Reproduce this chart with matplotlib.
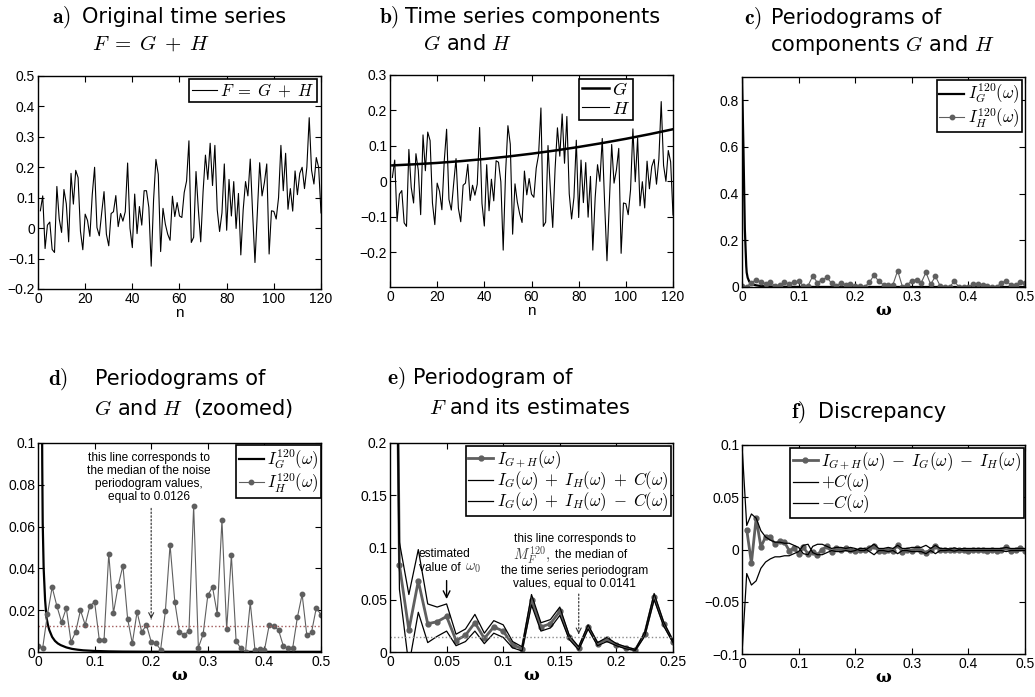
import matplotlib.pyplot as plt
import numpy as np
from matplotlib.ticker import FuncFormatter

plt.rcParams['mathtext.fontset'] = 'cm'
plt.rcParams['font.family'] = ['Liberation Sans', 'DejaVu Sans']

# time series, n = 1..120
n = np.arange(1, 121)
F = [0.057, 0.106, -0.067, 0.01, 0.02, -0.07, -0.08, 0.137, 0.03, -0.014,
     0.127, 0.08, -0.045, 0.18, 0.079, 0.19, 0.166, -0.01, -0.071, 0.046,
     0.025, -0.027, 0.11, 0.2, 0.002, -0.025, 0.05, 0.12, -0.02, -0.058,
     0.048, 0.054, 0.107, 0.005, 0.048, 0.023, 0.054, 0.214, 0.0, -0.064,
     0.112, -0.018, 0.071, 0.01, 0.123, 0.123, 0.068, -0.125, 0.092, 0.226,
     0.177, -0.077, 0.065, 0.013, -0.02, -0.04, 0.105, 0.038, 0.084, 0.04,
     0.035, 0.117, 0.155, 0.287, -0.047, -0.03, 0.186, 0.06, -0.045, 0.12,
     0.24, 0.16, 0.279, 0.14, 0.272, 0.06, -0.011, 0.05, 0.211, -0.007,
     0.16, 0.04, 0.153, -0.001, 0.114, -0.088, 0.06, 0.153, 0.106, 0.227,
     0.05, -0.113, 0.05, 0.215, 0.106, 0.15, 0.211, -0.085, 0.057, 0.055,
     0.03, 0.1, 0.272, 0.123, 0.246, 0.062, 0.13, 0.056, 0.188, 0.11,
     0.18, 0.2, 0.13, 0.2, 0.363, 0.19, 0.145, 0.232, 0.2, 0.05]
H = [0.011, 0.06, -0.113, -0.036, -0.026, -0.117, -0.127, 0.09, -0.017, -0.061,
     0.078, 0.031, -0.094, 0.131, 0.03, 0.139, 0.115, -0.061, -0.122, -0.005,
     -0.028, -0.08, 0.057, 0.147, -0.051, -0.081, -0.006, 0.064, -0.076, -0.114,
     -0.011, -0.005, 0.048, -0.054, -0.011, -0.039, -0.008, 0.152, -0.062, -0.126,
     0.047, -0.083, 0.006, -0.055, 0.058, 0.054, -0.001, -0.194, 0.023, 0.157,
     0.105, -0.149, -0.007, -0.059, -0.092, -0.116, 0.029, -0.038, 0.008, -0.036,
     -0.045, 0.037, 0.075, 0.207, -0.127, -0.115, 0.101, -0.025, -0.13, 0.035,
     0.151, 0.071, 0.19, 0.051, 0.183, -0.035, -0.106, -0.045, 0.116, -0.102,
     0.06, -0.06, 0.053, -0.101, 0.014, -0.194, -0.046, 0.047, 0.0, 0.121,
     -0.061, -0.224, -0.061, 0.104, -0.005, 0.032, 0.093, -0.203, -0.061, -0.063,
     -0.094, -0.024, 0.148, -0.001, 0.122, -0.069, -0.001, -0.075, 0.057, -0.021,
     0.042, 0.062, -0.008, 0.062, 0.225, 0.045, 0.0, 0.087, 0.055, -0.095]
n_G = [1, 10, 20, 30, 40, 50, 60, 70, 80, 90, 100, 110, 120]
G = [0.045, 0.048, 0.052, 0.057, 0.063, 0.07, 0.078, 0.087, 0.097, 0.108, 0.12, 0.133, 0.147]

# periodograms at Fourier frequencies k/120
omega = np.arange(61) / 120
I_H = [0.0029, 0.002, 0.018, 0.031, 0.022, 0.0143, 0.021, 0.0048, 0.0097, 0.020,
       0.013, 0.022, 0.024, 0.0057, 0.0056, 0.047, 0.0187, 0.0317, 0.0413, 0.0159,
       0.0041, 0.0192, 0.0095, 0.013, 0.0049, 0.0041, 0.0011, 0.0194, 0.0513, 0.0241,
       0.0094, 0.0083, 0.01, 0.0698, 0.0021, 0.0084, 0.0271, 0.0311, 0.0183, 0.063,
       0.0108, 0.0463, 0.0052, 0.0017, 0.0002, 0.0237, 0.001, 0.0014, 0.0008, 0.0127,
       0.0124, 0.0105, 0.003, 0.0017, 0.0019, 0.0167, 0.0276, 0.0079, 0.0095, 0.0211,
       0.0178]
omega_G = [0, 0.0025, 0.005, 0.0075, 0.0083, 0.01, 0.0125, 0.015, 0.0175, 0.02,
           0.025, 0.03, 0.035, 0.04, 0.05, 0.06, 0.07, 0.08, 0.1, 0.125,
           0.15, 0.2, 0.3, 0.4, 0.5]
I_G = [0.9, 0.6, 0.25, 0.09, 0.062, 0.04, 0.025, 0.0165, 0.013, 0.0105,
       0.0072, 0.0053, 0.0041, 0.0033, 0.0022, 0.0015, 0.0011, 0.0008, 0.0005, 0.0003,
       0.0002, 0.00013, 0.0001, 0.0001, 0.0001]
median_H = 0.0126
median_F = 0.0141

# panel e, k = 0..30
I_F = [0.92, 0.083, 0.021, 0.068, 0.027, 0.029, 0.034, 0.011, 0.016, 0.028,
       0.013, 0.024, 0.02, 0.007, 0.003, 0.05, 0.024, 0.027, 0.039, 0.014,
       0.0035, 0.024, 0.008, 0.012, 0.007, 0.004, 0.002, 0.017, 0.053, 0.027, 0.01]
upper = [1.0, 0.105, 0.055, 0.098, 0.046, 0.043, 0.046, 0.017, 0.022, 0.036,
         0.018, 0.03, 0.026, 0.01, 0.005, 0.055, 0.028, 0.031, 0.043, 0.016,
         0.005, 0.026, 0.009, 0.014, 0.008, 0.005, 0.0025, 0.019, 0.056, 0.029, 0.011]
lower = [0.8, 0.06, -0.013, 0.038, 0.009, 0.015, 0.02, 0.006, 0.01, 0.02,
         0.008, 0.018, 0.014, 0.004, 0.001, 0.045, 0.02, 0.023, 0.035, 0.012,
         0.002, 0.022, 0.006, 0.01, 0.006, 0.003, 0.0015, 0.015, 0.05, 0.025, 0.009]

# panel f
disc = [0.019, -0.013, 0.030, 0.0025, 0.012, 0.012, 0.005, 0.008, 0.007, -0.001,
        0.001, -0.004, 0.002, -0.004, -0.002, -0.005, 0.0, 0.003, -0.002, 0.001,
        0.0, 0.001, 0.0, -0.001, 0.0, 0.0, 0.001, 0.003, -0.001, -0.001,
        0.0, -0.001, 0.004, -0.002, 0.0, -0.001, 0.001, -0.001, -0.003, 0.0,
        0.003, 0.0, 0.0, 0.0, 0.0, 0.0, 0.0, -0.001, 0.0, 0.0,
        0.0, -0.001, 0.0, -0.001, 0.0, 0.002, -0.001, 0.0, 0.001, -0.001]
C = [0.1, 0.023, 0.034, 0.03, 0.018, 0.012, 0.009, 0.007, 0.007, 0.006,
     0.006, 0.004, 0.002, -0.004, -0.005, 0.003, 0.005, 0.005, 0.003, 0.001,
     0.002, 0.002, 0.001, 0.002, 0.001, -0.001, -0.001, 0.002, 0.005, 0.001,
     0.001, 0.002, 0.001, 0.004, 0.001, 0.001, 0.002, 0.002, 0.002, 0.004,
     0.001, 0.004, 0.001, 0.001, 0.0005, 0.0015, 0.0005, 0.001, 0.001, 0.001,
     0.001, 0.001, 0.001, 0.001, 0.001, 0.001, 0.002, 0.001, 0.001, 0.001, 0.001]

W, Hpx = 1035, 697
fig = plt.figure(figsize=(W / 100, Hpx / 100), dpi=100)

GRAY = '#5f5f5f'


def add_ax(l, t, r, b):
    return fig.add_axes([l / W, 1 - b / Hpx, (r - l) / W, (b - t) / Hpx])


def fmt(v, pos):
    return ('%g' % round(v, 6)).replace('-', '\u2212')


def style(ax):
    ax.tick_params(direction='in', top=True, right=True, length=4, width=0.8,
                   labelsize=10, pad=2)
    for s in ax.spines.values():
        s.set_linewidth(1.0)
    ax.xaxis.set_major_formatter(FuncFormatter(fmt))
    ax.yaxis.set_major_formatter(FuncFormatter(fmt))


def legend(ax, x, y, fs=12, sp=0.0):
    leg = ax.legend(loc='upper right', bbox_to_anchor=(x, y), fancybox=False,
                    edgecolor='black', framealpha=1, fontsize=fs, handlelength=1.5,
                    handletextpad=0.2, borderpad=0.15, labelspacing=sp, borderaxespad=0)
    leg.get_frame().set_linewidth(1.2)


def title(lbl, x1, y1, txt, x2=None, y2=None, txt2=None, xl=None):
    fig.text((xl - 1) / W, 1 - y1 / Hpx, r'$\mathbf{' + lbl + ')}$', fontsize=15.5,
             va='center', ha='left')
    fig.text((x1 + 5) / W, 1 - y1 / Hpx, txt, fontsize=15, family='DejaVu Sans',
             va='center', ha='left')
    if txt2:
        fig.text((x2 + 4) / W, 1 - y2 / Hpx, txt2, fontsize=15, family='DejaVu Sans',
                 va='center', ha='left')


def omega_label(ax):
    ax.set_xlabel('ω', family='DejaVu Serif', fontweight='bold', fontsize=12, labelpad=-1)


# a) original series
ax = add_ax(38, 76, 321, 289)
ax.plot(n, F, color='black', lw=0.8, label=r'$F\;=\;G\;+\;H$')
ax.set_xlim(0, 120)
ax.set_ylim(-0.2, 0.5)
ax.set_xticks(np.arange(0, 121, 20))
ax.set_yticks(np.arange(-0.2, 0.51, 0.1))
ax.set_xlabel('n', fontsize=11, labelpad=0)
style(ax)
legend(ax, 0.986, 0.986)
title('a', 77, 17, 'Original time series', 88, 44, r'$F\;=\;G\;+\;H$', xl=53)

# b) components
ax = add_ax(390, 75, 673, 287)
ax.plot(n_G, G, color='black', lw=1.8, label=r'$G$')
ax.plot(n, H, color='black', lw=0.8, label=r'$H$')
ax.set_xlim(0, 120)
ax.set_ylim(-0.298, 0.3)
ax.set_xticks(np.arange(0, 121, 20))
ax.set_yticks([-0.2, -0.1, 0, 0.1, 0.2, 0.3])
ax.set_xlabel('n', fontsize=11, labelpad=0)
style(ax)
legend(ax, 0.859, 0.981, fs=13, sp=0.1)
title('b', 400, 17, 'Time series components', 419, 44, r'$G$ and $H$', xl=380)

# c) periodograms
ax = add_ax(742, 77, 1025, 287)
ax.plot(omega_G, I_G, color='black', lw=1.6, label=r'$I_G^{120}(\omega)$')
ax.plot(omega, I_H, color=GRAY, lw=0.8, marker='o', ms=3.2, mfc=GRAY, mec=GRAY,
        label=r'$I_H^{120}(\omega)$')
ax.set_xlim(0, 0.5)
ax.set_ylim(0, 0.9)
ax.set_xticks(np.arange(0, 0.51, 0.1))
ax.set_yticks([0, 0.2, 0.4, 0.6, 0.8])
omega_label(ax)
style(ax)
legend(ax, 0.989, 0.986, fs=12)
title('c', 766, 18, 'Periodograms of', 766, 45, r'components $G$ and $H$', xl=745)

# d) zoomed periodograms
ax = add_ax(38, 443, 321, 652)
ax.plot(omega_G, I_G, color='black', lw=1.6, label=r'$I_G^{120}(\omega)$')
ax.plot(omega, I_H, color=GRAY, lw=0.8, marker='o', ms=3.2, mfc=GRAY, mec=GRAY,
        label=r'$I_H^{120}(\omega)$')
ax.axhline(median_H, color='#a05a5a', ls=':', lw=1.0)
ax.set_xlim(0, 0.5)
ax.set_ylim(0, 0.1)
ax.set_xticks(np.arange(0, 0.51, 0.1))
ax.set_yticks(np.arange(0, 0.101, 0.02))
ax.text(0.196, 0.0835, 'this line corresponds to\nthe median of the noise\n'
        'periodogram values,\nequal to 0.0126', ha='center', va='center',
        fontsize=8.6, linespacing=1.12)
ax.annotate('', xy=(0.2, 0.0145), xytext=(0.2, 0.070),
            arrowprops=dict(arrowstyle='-', ls=':', color='0.3', lw=1.0))
ax.annotate('', xy=(0.2, 0.0145), xytext=(0.2, 0.019),
            arrowprops=dict(arrowstyle='->', color='0.2', lw=0.8, mutation_scale=9))
omega_label(ax)
style(ax)
legend(ax, 1.0, 0.99, fs=12)
title('d', 90, 379, 'Periodograms of', 90, 408, r'$G$ and $H$  (zoomed)', xl=49)

# e) periodogram of F
ax = add_ax(390, 443, 673, 652)
ks = omega[:31]
ax.plot(ks, I_F, color=GRAY, lw=2.0, marker='o', ms=3.5, mfc=GRAY, mec=GRAY,
        label=r'$I_{G+H}(\omega)$')
ax.plot(ks, upper, color='black', lw=0.9,
        label=r'$I_G(\omega)\;+\;I_H(\omega)\;+\;C(\omega)$')
ax.plot(ks, lower, color='black', lw=0.9,
        label=r'$I_G(\omega)\;+\;I_H(\omega)\;-\;C(\omega)$')
ax.axhline(median_F, color='0.55', ls=':', lw=1.0)
ax.set_xlim(0, 0.25)
ax.set_ylim(0, 0.2)
ax.set_xticks(np.arange(0, 0.251, 0.05))
ax.set_yticks(np.arange(0, 0.201, 0.05))
ax.text(0.0256, 0.0938, 'estimated', ha='left', va='center', fontsize=8.6)
ax.text(0.0256, 0.080, 'value of', ha='left', va='center', fontsize=8.6)
ax.text(0.0665, 0.080, r'$\omega_0$', ha='left', va='center', fontsize=10.5, color='0.25')
ax.annotate('', xy=(0.05, 0.048), xytext=(0.05, 0.071),
            arrowprops=dict(arrowstyle='->', color='black', lw=1.0, mutation_scale=12))
ax.text(0.163, 0.1085, 'this line corresponds to', ha='center', va='center', fontsize=8.6)
ax.text(0.142, 0.0925, r'$M_F^{120},$', ha='right', va='center', fontsize=10.5, color='0.25')
ax.text(0.146, 0.0925, 'the median of', ha='left', va='center', fontsize=8.6)
ax.text(0.163, 0.0772, 'the time series periodogram', ha='center', va='center', fontsize=8.6)
ax.text(0.163, 0.0648, 'values, equal to 0.0141', ha='center', va='center', fontsize=8.6)
ax.annotate('', xy=(0.1667, 0.017), xytext=(0.1667, 0.058),
            arrowprops=dict(arrowstyle='-', ls=':', color='0.3', lw=1.0))
ax.annotate('', xy=(0.1667, 0.017), xytext=(0.1667, 0.021),
            arrowprops=dict(arrowstyle='->', color='0.2', lw=0.8, mutation_scale=9))
omega_label(ax)
style(ax)
legend(ax, 0.993, 0.986, sp=-0.1)
title('e', 408, 378, 'Periodogram of', 425, 408, r'$F$ and its estimates', xl=388)

# f) discrepancy
ax = add_ax(742, 445, 1025, 654)
ax.plot(omega[1:], disc, color=GRAY, lw=2.0, marker='o', ms=3.5, mfc=GRAY, mec=GRAY,
        label=r'$I_{G+H}(\omega)\;-\;I_G(\omega)\;-\;I_H(\omega)$')
ax.plot(omega, C, color='black', lw=0.9, label=r'$+C(\omega)$')
ax.plot(omega, -np.array(C), color='black', lw=0.9, label=r'$-C(\omega)$')
ax.set_xlim(0, 0.5)
ax.set_ylim(-0.1, 0.1)
ax.set_xticks(np.arange(0, 0.51, 0.1))
ax.set_yticks([-0.1, -0.05, 0, 0.05, 0.1])
omega_label(ax)
style(ax)
legend(ax, 0.996, 0.986, sp=-0.1)
title('f', 813, 412, 'Discrepancy', xl=792)

fig.savefig('out.png', dpi=100)
